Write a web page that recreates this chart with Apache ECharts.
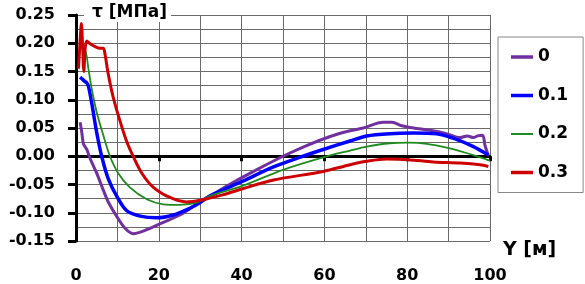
<!DOCTYPE html>
<html>
<head>
<meta charset="utf-8">
<script src="https://cdn.jsdelivr.net/npm/echarts@6/dist/echarts.min.js"></script>
<style>
  html, body { margin: 0; padding: 0; background: #fff; }
  #chart { width: 585px; height: 284px; }
</style>
</head>
<body>
<div id="chart"></div>
<script>
// ---- data ----
const seriesNames = ['0', '0.1', '0.2', '0.3'];

const xTickLabels = ['0', '20', '40', '60', '80', '100'];
const yTickLabels = ['-0.15', '-0.10', '-0.05', '0.00', '0.05', '0.10', '0.15', '0.20', '0.25'];

const yPos0 = [1.0, 1.4, 1.8, 2.6, 3.4, 5.0, 6.6, 7.8, 9.8, 11.8, 13.8, 17.1, 21.1, 25.9, 30.0, 32.4, 38.0, 43.6, 50.0, 55.7, 61.4, 66.2, 69.4, 74.2, 76.3, 78.7, 80.7, 85.5, 89.5, 92.8, 94.5, 96.0, 97.0, 98.2, 98.8, 99.6];
const tau0   = [0.060, 0.042, 0.022, 0.012, -0.004, -0.030, -0.060, -0.081, -0.106, -0.127, -0.137, -0.130, -0.117, -0.101, -0.080, -0.070, -0.046, -0.024, 0.000, 0.019, 0.035, 0.045, 0.050, 0.060, 0.060, 0.054, 0.051, 0.046, 0.040, 0.033, 0.036, 0.033, 0.036, 0.037, 0.019, 0.001];

const yPos1 = [1.0, 1.6, 2.2, 2.6, 3.0, 3.8, 5.0, 6.2, 7.8, 9.8, 12.2, 15.5, 19.5, 23.5, 27.5, 30.0, 32.4, 40.0, 47.7, 54.0, 59.7, 66.2, 70.2, 75.8, 81.5, 87.1, 91.1, 96.0, 99.6];
const tau1   = [0.140, 0.136, 0.132, 0.130, 0.124, 0.094, 0.042, 0.000, -0.040, -0.070, -0.096, -0.106, -0.109, -0.104, -0.092, -0.082, -0.070, -0.045, -0.019, -0.002, 0.012, 0.027, 0.036, 0.040, 0.041, 0.040, 0.032, 0.017, 0.002];

const yPos2 = [1.6, 2.3, 3.0, 3.8, 5.0, 6.6, 8.2, 10.2, 13.0, 17.1, 21.1, 25.1, 29.5, 32.4, 40.0, 50.0, 59.7, 66.2, 70.2, 75.8, 80.3, 84.7, 90.3, 96.0, 99.2, 100.0];
const tau2   = [0.160, 0.186, 0.155, 0.119, 0.078, 0.037, 0.000, -0.030, -0.055, -0.076, -0.085, -0.086, -0.081, -0.070, -0.053, -0.024, -0.002, 0.010, 0.017, 0.023, 0.024, 0.022, 0.014, 0.002, -0.006, -0.008];

const yPos3 = [0.6, 1.0, 1.3, 1.6, 1.9, 2.2, 2.6, 3.4, 4.6, 5.8, 6.6, 7.0, 7.8, 9.0, 10.6, 12.2, 13.8, 15.9, 18.7, 22.7, 26.7, 30.0, 35.6, 40.0, 47.7, 59.7, 66.2, 70.2, 75.0, 80.3, 86.3, 92.8, 97.6, 99.6];
const tau3   = [0.155, 0.205, 0.235, 0.195, 0.150, 0.190, 0.204, 0.199, 0.194, 0.191, 0.191, 0.181, 0.145, 0.104, 0.063, 0.027, 0.000, -0.030, -0.055, -0.073, -0.081, -0.078, -0.068, -0.058, -0.042, -0.027, -0.015, -0.009, -0.005, -0.006, -0.010, -0.012, -0.015, -0.018];

const colors = ['#7030A0', '#0000FF', '#1F8A1F', '#CC0000'];
const widths = [3, 3.5, 1.8, 3];

// ---- chart ----
const X = [yPos0, yPos1, yPos2, yPos3];
const T = [tau0, tau1, tau2, tau3];
const FONT = '"DejaVu Sans", "Liberation Sans", sans-serif';
const GRID = '#6a6a6a';

const chart = echarts.init(document.getElementById('chart'), null, { renderer: 'canvas' });
chart.setOption({
  animation: false,
  backgroundColor: '#fff',
  grid: { left: 76, right: 95, top: 15, bottom: 9 },
  legend: {
    orient: 'vertical',
    left: 498, top: 37,
    padding: [10, 15, 10, 13],
    itemGap: 18.5,
    itemWidth: 22, itemHeight: 14,
    borderColor: '#888', borderWidth: 1,
    textStyle: { fontSize: 17, fontWeight: 'bold', fontFamily: FONT, color: '#000', lineHeight: 20 },
    data: seriesNames.map((n, i) => ({
      name: n,
      icon: i === 2 ? 'path://M0,0L22,0L22,2L0,2Z' : 'path://M0,0L22,0L22,3.5L0,3.5Z'
    }))
  },
  graphic: [
    { type: 'text', left: 84, top: 3, z: 100,
      style: { text: 'τ [МПа]', font: 'bold 17px ' + FONT, fill: '#000', backgroundColor: '#fff', padding: [1, 4, 1, 8] } },
    { type: 'text', left: 503, top: 241, z: 100,
      style: { text: 'Y [м]', font: 'bold 19px ' + FONT, fill: '#000' } }
  ],
  xAxis: {
    type: 'value', min: 0, max: 100, interval: 20,
    axisLine: { show: true, onZero: true, lineStyle: { color: '#000', width: 3 } },
    axisTick: { show: true, length: 5, lineStyle: { color: '#000', width: 3 } },
    minorTick: { show: false, splitNumber: 2 },
    axisLabel: { margin: 27, fontSize: 16, fontWeight: 'bold', fontFamily: FONT, color: '#000',
      formatter: v => xTickLabels[Math.round(v / 20)] },
    splitLine: { show: true, lineStyle: { color: GRID, width: 1 } },
    minorSplitLine: { show: true, lineStyle: { color: GRID, width: 1 } }
  },
  yAxis: {
    type: 'value', min: -0.15, max: 0.25, interval: 0.05,
    axisLine: { show: true, onZero: false, lineStyle: { color: '#000', width: 3 } },
    axisTick: { show: true, length: 8, lineStyle: { color: '#000', width: 3 } },
    minorTick: { show: false, splitNumber: 2 },
    axisLabel: { margin: 21, fontSize: 16, fontWeight: 'bold', fontFamily: FONT, color: '#000',
      formatter: v => yTickLabels[Math.round((v + 0.15) / 0.05)] },
    splitLine: { show: true, lineStyle: { color: GRID, width: 1 } },
    minorSplitLine: { show: true, lineStyle: { color: GRID, width: 1 } }
  },
  series: seriesNames.map((name, i) => ({
    name: name,
    type: 'line',
    symbol: 'none',
    showSymbol: false,
    smooth: 0.3,
    color: colors[i],
    itemStyle: { color: colors[i] },
    lineStyle: { color: colors[i], width: widths[i] },
    data: X[i].map((x, j) => [x, T[i][j]])
  }))
});
</script>
</body>
</html>
